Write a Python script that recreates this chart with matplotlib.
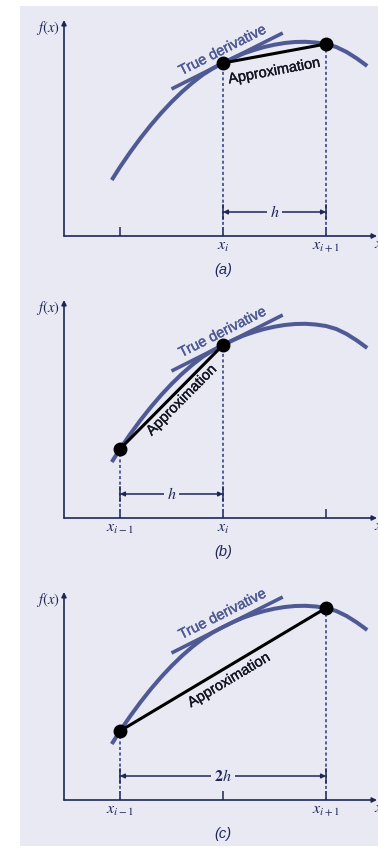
import numpy as np
import matplotlib
matplotlib.use("Agg")
import matplotlib.pyplot as plt
import matplotlib.patheffects as pe
from matplotlib.patches import Rectangle

plt.rcParams["mathtext.fontset"] = "stix"
plt.rcParams["font.family"] = ["Liberation Sans", "DejaVu Sans"]
plt.rcParams["lines.scale_dashes"] = False

# curve f(x): x in grid units (x_{i-1}=1, x_i=2, x_{i+1}=3)
curve_x = [0.92, 1.00, 1.10, 1.20, 1.30, 1.40, 1.50, 1.60, 1.70, 1.80, 1.90, 2.00,
           2.10, 2.20, 2.30, 2.40, 2.50, 2.60, 2.70, 2.80, 2.90, 3.00, 3.10, 3.20,
           3.30, 3.40]
curve_y = [56, 69, 84, 98, 111, 123, 134, 144, 153, 161, 167.5, 173,
           178, 182.5, 186, 189, 191.3, 193, 194, 194.2, 193.5, 192, 189, 184,
           177.5, 170]

# true derivative (tangent at x_i)
tangent_x = [1.50, 2.58]
tangent_y = [147, 203]

grid_x = [1, 2, 3]
point_y = {1: 69, 2: 173, 3: 192}

panel_names = ["(a)", "(b)", "(c)"]
panel_points = [[2, 3], [1, 2], [1, 3]]
panel_ticklabels = [
    ["", r"$x_i$", r"$x_{i+1}$"],
    [r"$x_{i-1}$", r"$x_i$", ""],
    [r"$x_{i-1}$", "", r"$x_{i+1}$"],
]
panel_step = ["$h$", "$h$", r"$\mathbf{2}h$"]
approx_label_pos = [(2.50, 165), (1.60, 118), (2.06, 120)]
deriv_label_pos = (2.0, 186)
step_y = 24

BG = "#e8e9f3"
CURVE = "#4f5a95"
NAVY = "#1e2656"
DASH = "#3b4687"

W, H = 378, 851
fig = plt.figure(figsize=(W / 100, H / 100), dpi=100)
fig.patch.set_facecolor("white")
fig.patches.append(Rectangle((20 / W, 5 / H), (W - 20) / W, (H - 11) / H,
                             transform=fig.transFigure, facecolor=BG,
                             edgecolor="none", zorder=-10))

# axes boxes in pixels: (x-axis row from top, height)
boxes = [(236, 216), (518, 218), (800, 208)]
left_px, width_px = 64, 313
x0 = 1 + (left_px - 120) / 103

thick = [pe.withStroke(linewidth=0.25, foreground="#121420")]


def angle_of(ax, xs, ys):
    p = ax.transData.transform(np.column_stack([xs, ys]))
    d = p[1] - p[0]
    return np.degrees(np.arctan2(d[1], d[0]))


for k, (axis_row, hgt) in enumerate(boxes):
    ax = fig.add_axes([left_px / W, (H - axis_row) / H, width_px / W, hgt / H])
    ax.set_facecolor("none")
    ax.set_xlim(x0, x0 + width_px / 103)
    ax.set_ylim(0, hgt)
    for s in ax.spines.values():
        s.set_visible(False)
    ax.set_yticks([])
    ax.set_xticks(grid_x)
    ax.set_xticklabels(panel_ticklabels[k], fontsize=11.5)
    ax.tick_params(axis="x", direction="in", length=6.5, width=1.1,
                   color=NAVY, pad=2, labelcolor=NAVY)

    # axes with arrows
    ax.annotate("", xy=(1, 0), xytext=(0, 0), xycoords="axes fraction",
                arrowprops=dict(arrowstyle="-|>", color=NAVY, lw=1.2,
                                mutation_scale=7, shrinkA=0, shrinkB=0))
    ax.annotate("", xy=(0, 1), xytext=(0, 0), xycoords="axes fraction",
                arrowprops=dict(arrowstyle="-|>", color=NAVY, lw=1.2,
                                mutation_scale=7, shrinkA=0, shrinkB=0))
    ax.annotate("$f(x)$", xy=(0, 1), xycoords="axes fraction",
                xytext=(-11.5, -6), textcoords="offset points",
                ha="center", va="center", fontsize=10.5, color=NAVY)
    ax.annotate("$x$", xy=(1, 0), xycoords="axes fraction",
                xytext=(-2, -5.5), textcoords="offset points",
                ha="left", va="center", fontsize=11.5, color=NAVY,
                annotation_clip=False)

    # function and tangent
    ax.plot(curve_x, curve_y, color=CURVE, lw=2.9, solid_capstyle="butt",
            solid_joinstyle="round", zorder=3)
    ax.plot(tangent_x, tangent_y, color=CURVE, lw=2.6, solid_capstyle="butt",
            zorder=3)
    ang = angle_of(ax, tangent_x, tangent_y)
    ax.text(deriv_label_pos[0], deriv_label_pos[1], "True derivative",
            rotation=ang, rotation_mode="anchor", ha="center", va="center",
            fontsize=10.5, color=CURVE, zorder=4,
            path_effects=[pe.withStroke(linewidth=0.3, foreground=CURVE)])

    # finite difference approximation
    px = panel_points[k]
    py = [point_y[p] for p in px]
    for u, f in zip(px, py):
        ax.plot([u, u], [0, f], color=DASH, lw=1.2, dashes=(2.2, 1.8), zorder=2)
    ax.plot(px, py, color="black", lw=2.2, solid_capstyle="butt", zorder=5)
    ax.plot(px, py, "o", color="black", ms=9, zorder=6)
    ang = angle_of(ax, px, py)
    ax.text(approx_label_pos[k][0], approx_label_pos[k][1], "Approximation",
            rotation=ang, rotation_mode="anchor", ha="center", va="center",
            fontsize=10.5, color="#121420", zorder=4, path_effects=thick)

    # step width arrow
    ax.annotate("", xy=(px[1], step_y), xytext=(px[0], step_y),
                arrowprops=dict(arrowstyle="<|-|>", color=NAVY, lw=1.1,
                                mutation_scale=6.5, shrinkA=0, shrinkB=0))
    for u in px:
        ax.plot([u, u], [step_y - 7, step_y + 7], color=NAVY, lw=1.1, zorder=3)
    ax.text(np.mean(px), step_y, panel_step[k], ha="center", va="center",
            fontsize=11.5, color=NAVY,
            bbox=dict(facecolor=BG, edgecolor="none", pad=2), zorder=4)

    ax.annotate(panel_names[k], xy=(2, 0), xycoords="data",
                xytext=(0, -24.5), textcoords="offset points",
                ha="center", va="center", fontsize=10.5, style="italic",
                color=NAVY, annotation_clip=False)

fig.savefig("out.png", dpi=100, facecolor=fig.get_facecolor())
